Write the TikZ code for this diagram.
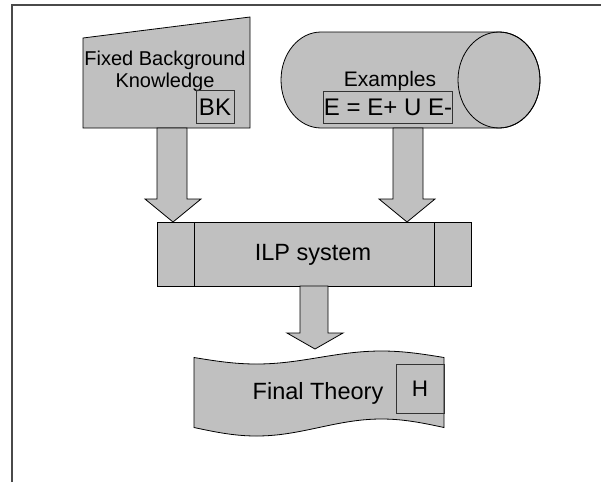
\documentclass[tikz,border=0pt]{standalone}
\usepackage{fontspec}
\setmainfont{Liberation Sans}
\usetikzlibrary{calc}
\definecolor{shapegray}{HTML}{C0C0C0}
\definecolor{framegray}{HTML}{4A4A4A}
\definecolor{boxline}{HTML}{333333}
\tikzset{
  shapefill/.style={fill=shapegray, draw=black, line width=0.8pt, line join=miter},
  innerbox/.style={draw=boxline, line width=0.7pt},
  lbl/.style={inner sep=0pt, align=center, text=black},
  fA/.style={font=\fontsize{20}{22}\selectfont},
  fB/.style={font=\fontsize{21}{23}\selectfont},
  fC/.style={font=\fontsize{23.5}{26}\selectfont},
  fH/.style={font=\fontsize{22.5}{24}\selectfont},
}
% block arrow: #1 start coordinate, #2 tip coordinate, #3 shaft half width, #4 head half width, #5 head length
\newcommand{\blockarrow}[5]{%
  \path[shapefill] let \p1=(#1), \p2=(#2) in
    (\x1-#3pt,\y1) -- (\x1+#3pt,\y1) -- (\x1+#3pt,\y2+#5pt) -- (\x2+#4pt,\y2+#5pt)
    -- (\x2,\y2) -- (\x2-#4pt,\y2+#5pt) -- (\x1-#3pt,\y2+#5pt) -- cycle;}
\begin{document}
\begin{tikzpicture}[x=1pt,y=-1pt]
\useasboundingbox (0,0) rectangle (601,482);
% frame
\draw[framegray, line width=1.3pt] (12,482) -- (12,5) -- (601,5);

% anchors for the connectors
\coordinate (bkout) at (172,128);
\coordinate (exout) at (408,128);
\coordinate (ilpinA) at (173,222);
\coordinate (ilpinB) at (407,222);
\coordinate (ilpout) at (314,286);
\coordinate (ftin) at (315,349);

% Fixed background knowledge (manual input)
\path[shapefill] (83,38) -- (250,17) -- (250,128) -- (83,128) -- cycle;
\node[lbl, fA] (bktext) at (165,71) {Fixed Background\\Knowledge};
\draw[innerbox] (196,90) rectangle (234,123);
\node[lbl, font=\fontsize{24}{26}\selectfont] (bk) at (215,107) {BK};

% Examples (cylinder)
\path[shapefill] (321,32) arc[start angle=90, end angle=270, x radius=40pt, y radius=48pt]
  -- (499,128) arc[start angle=-90, end angle=90, x radius=41pt, y radius=48pt] -- cycle;
\draw[line width=0.8pt] (499,80) ellipse[x radius=41pt, y radius=48pt];
\node[lbl, fB] (extext) at (390,81) {Examples};
\draw[innerbox] (323,91) rectangle (452,123);
\node[lbl, font=\fontsize{24}{26}\selectfont] (ex) at (388,107) {E = E+ U E-};

% arrows into the ILP system
\blockarrow{bkout}{ilpinA}{15}{28}{23}
\blockarrow{exout}{ilpinB}{15}{28}{23}

% ILP system (predefined process)
\node[shapefill, minimum width=314pt, minimum height=64pt, inner sep=0pt] (ilp) at (314.5,254) {};
\draw[line width=0.8pt] (194,222) -- (194,286);
\draw[line width=0.8pt] (434.5,222) -- (434.5,286);
\node[lbl, fC] (ilptext) at (313,255) {ILP system};

% arrow out of the ILP system
\blockarrow{ilpout}{ftin}{14}{28}{16}

% Final theory (tape)
\path[shapefill] (194,357.5)
  -- plot[domain=0:250, samples=80, smooth] ({194+\x},{357.5+6.5*sin(1.44*\x)})
  -- plot[domain=250:0, samples=80, smooth] ({194+\x},{427.5+8.5*sin(1.44*\x)})
  -- cycle;
\draw[innerbox] (396,364) rectangle (444,413);
\node[lbl, fC] (fttext) at (318,393) {Final Theory};
\node[lbl, fH] (h) at (420,389) {H};
\end{tikzpicture}
\end{document}
